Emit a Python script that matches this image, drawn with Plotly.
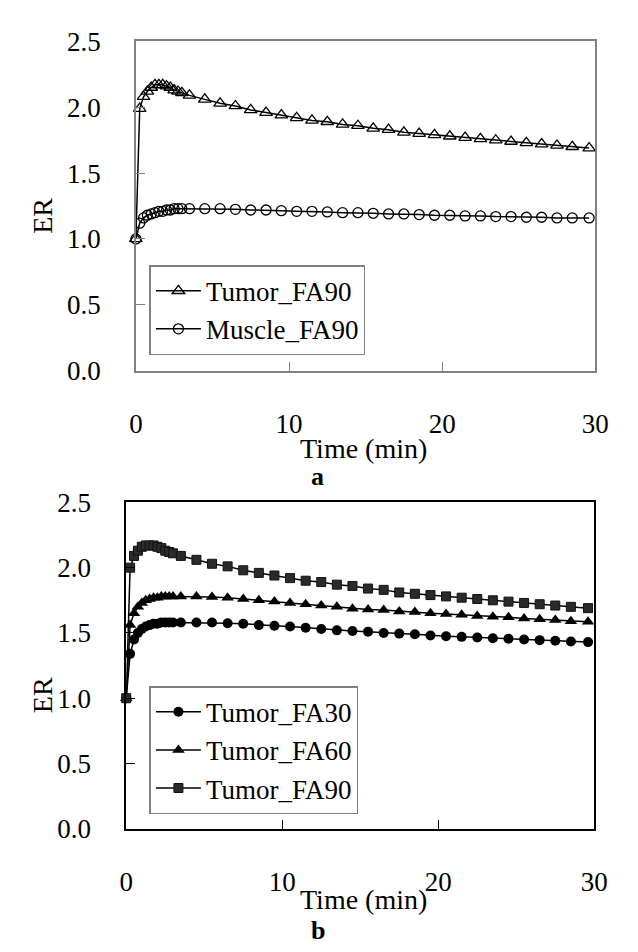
import plotly.graph_objects as go

# ---- data ----
time_min = [0, 0.25, 0.5, 0.75, 1.0, 1.25, 1.5, 1.75, 2.0, 2.25, 2.5, 2.75, 3.0,
            3.5, 4.5, 5.5, 6.5, 7.5, 8.5, 9.5, 10.5, 11.5, 12.5, 13.5, 14.5, 15.5,
            16.5, 17.5, 18.5, 19.5, 20.5, 21.5, 22.5, 23.5, 24.5, 25.5, 26.5, 27.5,
            28.5, 29.6]

tumor_fa90_a = [1.00, 1.99, 2.08, 2.12, 2.15, 2.17, 2.17, 2.17, 2.16, 2.15, 2.13, 2.12, 2.11,
                2.09, 2.06, 2.03, 2.01, 1.98, 1.96, 1.94, 1.92, 1.90, 1.89, 1.87, 1.86, 1.84,
                1.83, 1.81, 1.80, 1.79, 1.78, 1.77, 1.76, 1.75, 1.74, 1.73, 1.72, 1.71,
                1.70, 1.69]
muscle_fa90_a = [1.00, 1.12, 1.16, 1.18, 1.19, 1.20, 1.21, 1.21, 1.22, 1.22, 1.23, 1.23, 1.23,
                 1.23, 1.23, 1.23, 1.225, 1.22, 1.22, 1.215, 1.21, 1.21, 1.205, 1.20, 1.20, 1.195,
                 1.19, 1.19, 1.185, 1.18, 1.18, 1.175, 1.175, 1.17, 1.17, 1.165, 1.165, 1.16,
                 1.16, 1.16]

tumor_fa30_b = [1.00, 1.34, 1.45, 1.50, 1.53, 1.55, 1.56, 1.57, 1.57, 1.58, 1.58, 1.58, 1.58,
                1.58, 1.58, 1.58, 1.575, 1.57, 1.56, 1.555, 1.55, 1.54, 1.53, 1.52, 1.515, 1.51,
                1.50, 1.495, 1.49, 1.48, 1.475, 1.47, 1.465, 1.46, 1.455, 1.45, 1.445, 1.44,
                1.435, 1.43]
tumor_fa60_b = [1.00, 1.56, 1.65, 1.70, 1.73, 1.75, 1.76, 1.77, 1.77, 1.78, 1.78, 1.78, 1.78,
                1.78, 1.78, 1.775, 1.77, 1.76, 1.75, 1.74, 1.73, 1.72, 1.71, 1.70, 1.685, 1.68,
                1.675, 1.665, 1.66, 1.65, 1.645, 1.64, 1.63, 1.625, 1.62, 1.61, 1.605, 1.60,
                1.59, 1.585]
tumor_fa90_b = [1.00, 2.00, 2.09, 2.13, 2.16, 2.17, 2.17, 2.17, 2.16, 2.15, 2.13, 2.12, 2.11,
                2.09, 2.06, 2.03, 2.01, 1.98, 1.96, 1.94, 1.92, 1.90, 1.89, 1.87, 1.86, 1.84,
                1.83, 1.81, 1.80, 1.79, 1.78, 1.77, 1.76, 1.75, 1.74, 1.73, 1.72, 1.71,
                1.70, 1.69]

x_ticks = [0, 10, 20, 30]
y_ticks = [0.0, 0.5, 1.0, 1.5, 2.0, 2.5]
y_tick_text = ["0.0", "0.5", "1.0", "1.5", "2.0", "2.5"]

FONT = "Liberation Serif"
W, H = 638, 952

fig = go.Figure()

line = dict(color="black", width=1.5)

fig.add_trace(go.Scatter(x=time_min, y=tumor_fa90_a, name="Tumor_FA90", mode="lines+markers",
                         line=line, xaxis="x", yaxis="y", legend="legend", cliponaxis=False,
                         marker=dict(symbol="triangle-up-open", size=11, color="black",
                                     line=dict(width=1.3, color="black"))))
fig.add_trace(go.Scatter(x=time_min, y=muscle_fa90_a, name="Muscle_FA90", mode="lines+markers",
                         line=line, xaxis="x", yaxis="y", legend="legend", cliponaxis=False,
                         marker=dict(symbol="circle-open", size=10, color="black",
                                     line=dict(width=1.3, color="black"))))

fig.add_trace(go.Scatter(x=time_min, y=tumor_fa30_b, name="Tumor_FA30", mode="lines+markers",
                         line=line, xaxis="x2", yaxis="y2", legend="legend2", cliponaxis=False,
                         marker=dict(symbol="circle", size=10, color="black")))
fig.add_trace(go.Scatter(x=time_min, y=tumor_fa60_b, name="Tumor_FA60", mode="lines+markers",
                         line=line, xaxis="x2", yaxis="y2", legend="legend2", cliponaxis=False,
                         marker=dict(symbol="triangle-up", size=11, color="black")))
fig.add_trace(go.Scatter(x=time_min, y=tumor_fa90_b, name="Tumor_FA90", mode="lines+markers",
                         line=line, xaxis="x2", yaxis="y2", legend="legend2", cliponaxis=False,
                         marker=dict(symbol="square", size=9, color="#2a2a2a",
                                     line=dict(width=1, color="#111"))))


def px_x(v):
    return v / W


def px_y(v):
    return 1 - v / H


def xaxis_cfg(l, r, anchor, linecolor):
    return dict(domain=[px_x(l), px_x(r)], range=[0, 30], anchor=anchor,
                tickvals=x_ticks, ticks="inside", ticklen=9, tickcolor=linecolor,
                showline=True, linecolor=linecolor, linewidth=1.5, mirror=True,
                showgrid=False, zeroline=False, ticklabelstandoff=28,
                tickfont=dict(family=FONT, size=27, color="black"))


def yaxis_cfg(top, bot, anchor, linecolor):
    return dict(domain=[px_y(bot), px_y(top)], range=[0, 2.5], anchor=anchor,
                tickvals=y_ticks, ticktext=y_tick_text, ticks="inside", ticklen=9,
                tickcolor=linecolor, showline=True, linecolor=linecolor, linewidth=1.5,
                mirror=True, showgrid=False, zeroline=False, ticklabelstandoff=28,
                tickfont=dict(family=FONT, size=27, color="black"))


fig.update_layout(
    width=W, height=H, margin=dict(l=0, r=0, t=0, b=0),
    paper_bgcolor="white", plot_bgcolor="white",
    font=dict(family=FONT, size=27, color="black"),
    xaxis=xaxis_cfg(125, 600, "y", "#808080"),
    yaxis=yaxis_cfg(19, 359, "x", "#808080"),
    xaxis2=xaxis_cfg(115, 599, "y2", "black"),
    yaxis2=yaxis_cfg(495, 832, "x2", "black"),
    legend=dict(x=px_x(139), y=px_y(343), xanchor="left", yanchor="bottom",
                bordercolor="#808080", borderwidth=1.5, bgcolor="white",
                font=dict(family=FONT, size=27, color="black"), itemwidth=45,
                tracegroupgap=0),
    legend2=dict(x=px_x(139), y=px_y(817), xanchor="left", yanchor="bottom",
                 bordercolor="#808080", borderwidth=1.5, bgcolor="white",
                 font=dict(family=FONT, size=27, color="black"), itemwidth=45,
                 tracegroupgap=0),
    showlegend=True,
)

annots = [
    dict(text="ER", x=px_x(29), y=px_y(199), textangle=-90, size=28),
    dict(text="Time (min)", x=px_x(360), y=px_y(439), size=28),
    dict(text="<b>a</b>", x=px_x(313), y=px_y(468), size=26),
    dict(text="ER", x=px_x(28), y=px_y(694), textangle=-90, size=28),
    dict(text="Time (min)", x=px_x(360), y=px_y(905), size=28),
    dict(text="<b>b</b>", x=px_x(313), y=px_y(937), size=26),
]
for a in annots:
    size = a.pop("size")
    fig.add_annotation(xref="paper", yref="paper", showarrow=False,
                       xanchor="center", yanchor="middle",
                       font=dict(family=FONT, size=size, color="black"), **a)

fig.write_html("out.html")
